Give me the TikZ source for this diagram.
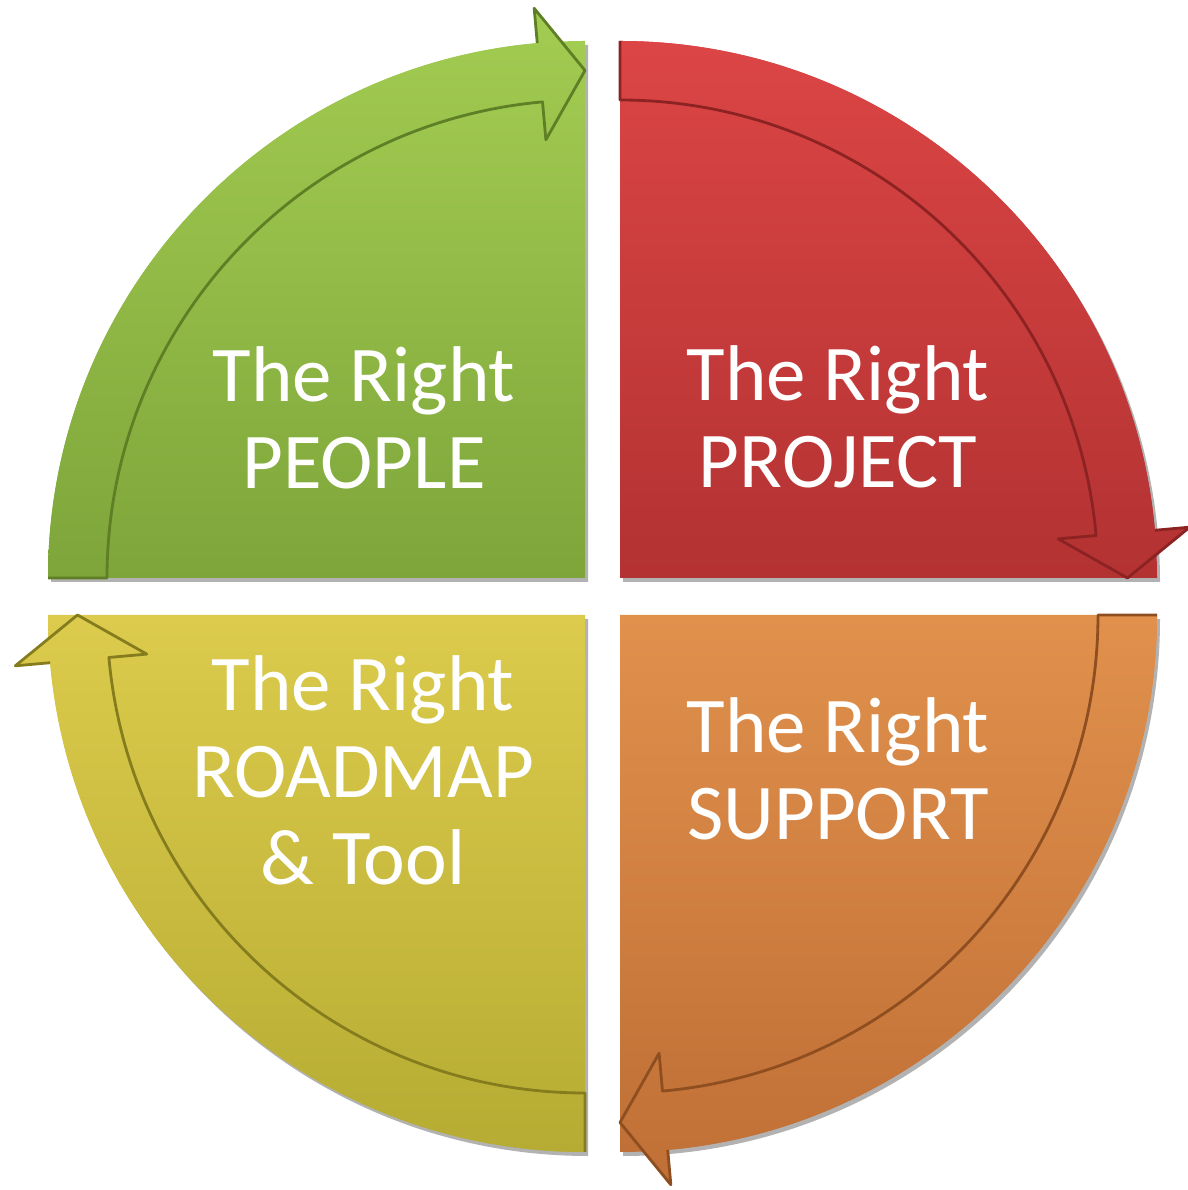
\documentclass[tikz,border=0pt]{standalone}
\usepackage{fontspec}
\setmainfont{Carlito}
\usetikzlibrary{shadows}
\definecolor{gTop}{HTML}{A3CC52}
\definecolor{gBot}{HTML}{7DA53A}
\definecolor{gLine}{HTML}{5E7F25}
\definecolor{rTop}{HTML}{DC4545}
\definecolor{rBot}{HTML}{B33232}
\definecolor{rLine}{HTML}{8C2222}
\definecolor{oTop}{HTML}{E1914C}
\definecolor{oBot}{HTML}{C06F36}
\definecolor{oLine}{HTML}{8E4E20}
\definecolor{yTop}{HTML}{DCCB4C}
\definecolor{yBot}{HTML}{B6AC33}
\definecolor{yLine}{HTML}{857C1E}
\begin{document}
\begin{tikzpicture}[x=0.5pt,y=0.5pt,
  quad/.style={drop shadow={shadow xshift=1.5pt,shadow yshift=-2pt,opacity=0.3,fill=black}},
  lbl/.style={text=white,font=\fontsize{39.5}{43.5}\selectfont,align=center,anchor=base,inner sep=0pt},
  pics/cyclearrow/.style args={#1/#2}{code={
    \path[top color=#2Top,bottom color=#2Bot] (#1:537) arc[start angle=#1,end angle=#1-84.9,radius=537]
      -- (#1-84.9:572) -- (#1-90:507.5) -- (#1-84.9:440) -- (#1-84.9:478)
      arc[start angle=#1-84.9,end angle=#1,radius=478] -- cycle;
    \draw[#2Line,line width=1.4,line join=round] (#1-84.9:537) -- (#1-84.9:572) -- (#1-90:507.5) -- (#1-84.9:440) -- (#1-84.9:478)
      arc[start angle=#1-84.9,end angle=#1,radius=478] -- (#1:537);
  }}]
\useasboundingbox (0,0) rectangle (1188,1190);
% quadrants
\path[quad,top color=gTop,bottom color=gBot] (585,612) -- (48,612) arc[start angle=180,end angle=90,radius=537] -- cycle;
\path[quad,top color=rTop,bottom color=rBot] (620,612) -- (620,1149) arc[start angle=90,end angle=0,radius=537] -- cycle;
\path[quad,top color=oTop,bottom color=oBot] (620,575) -- (1157,575) arc[start angle=0,end angle=-90,radius=537] -- cycle;
\path[quad,top color=yTop,bottom color=yBot] (585,575) -- (585,38) arc[start angle=270,end angle=180,radius=537] -- cycle;
% arrows
\pic at (585,612) {cyclearrow=180/g};
\pic at (620,612) {cyclearrow=90/r};
\pic at (620,575) {cyclearrow=0/o};
\pic at (585,575) {cyclearrow=-90/y};
% labels (base = baseline of last line)
\node[lbl] (people) at (364,701) {The Right\\PEOPLE};
\node[lbl] (project) at (838,702) {The Right\\PROJECT};
\node[lbl] (roadmap) at (363,305) {The Right\\ROADMAP\\\& Tool};
\node[lbl] (support) at (838,350) {The Right\\SUPPORT};
\end{tikzpicture}
\end{document}
